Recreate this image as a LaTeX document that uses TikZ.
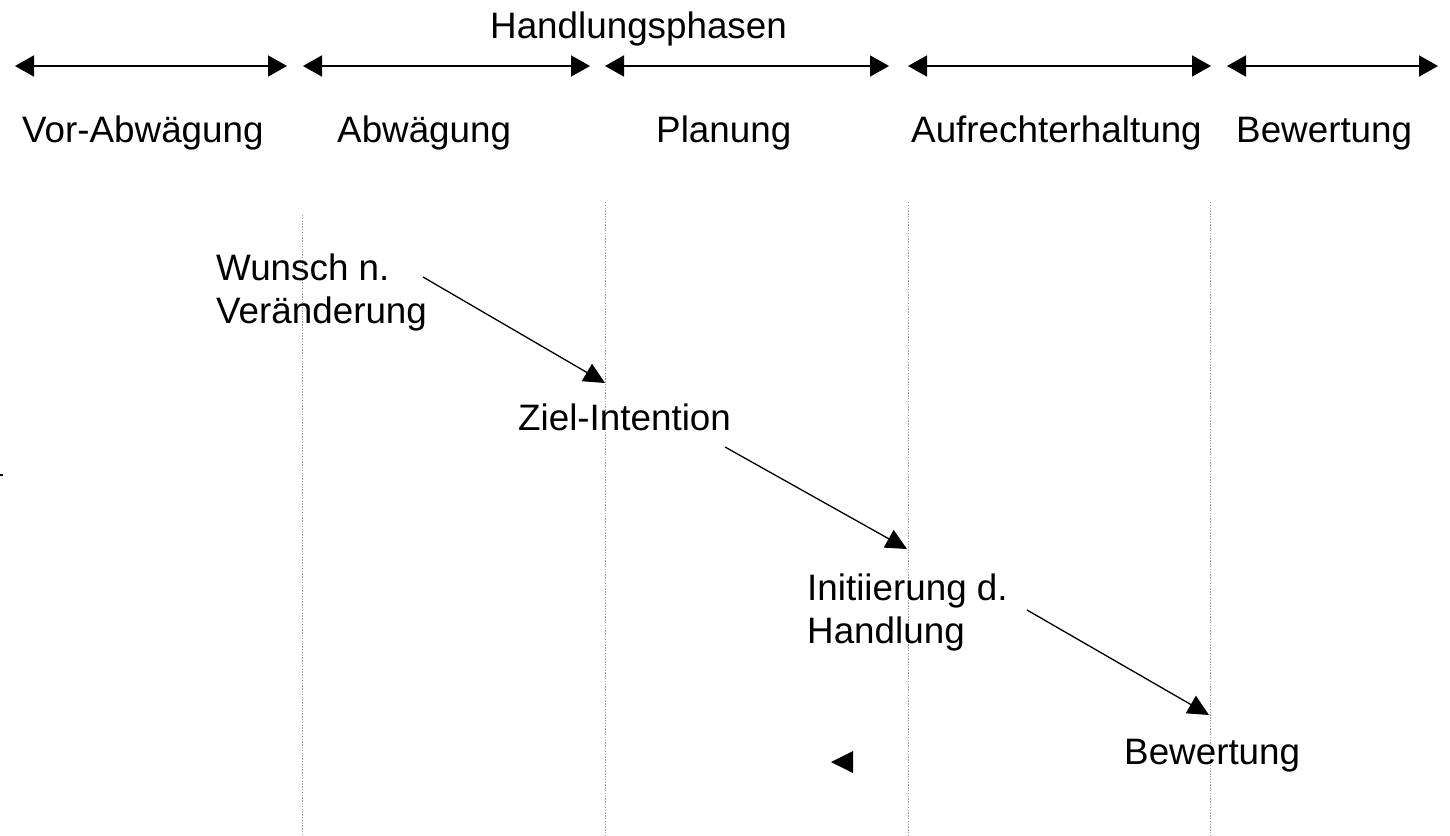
\documentclass[tikz,border=0pt]{standalone}
\usepackage{fontspec}
\setmainfont{Liberation Sans}
\usetikzlibrary{arrows.meta}
\begin{document}
\begin{tikzpicture}[x=1pt,y=-1pt,
  lbl/.style={anchor=base west,inner sep=0pt,font=\fontsize{36.8}{43}\selectfont,align=left},
  phasearrow/.style={line width=1.8pt,{Triangle[length=19pt,width=21pt]}-{Triangle[length=19pt,width=21pt]}},
  flowarrow/.style={line width=1.3pt,-{Triangle[length=21pt,width=20pt]}},
  divider/.style={gray!75,line width=1pt,dash pattern=on 1.4pt off 1.4pt}]
\useasboundingbox (0,0) rectangle (1450,835);
% title
\node[lbl] (title) at (490,38) {Handlungsphasen};
% phase arrows
\coordinate (a1l) at (15,66);   \coordinate (a1r) at (287,66);
\coordinate (a2l) at (303,66);  \coordinate (a2r) at (590,66);
\coordinate (a3l) at (605,66);  \coordinate (a3r) at (889,66);
\coordinate (a4l) at (908,66);  \coordinate (a4r) at (1211,66);
\coordinate (a5l) at (1227,66); \coordinate (a5r) at (1438,66);
\draw[phasearrow] (a1l) -- (a1r);
\draw[phasearrow] (a2l) -- (a2r);
\draw[phasearrow] (a3l) -- (a3r);
\draw[phasearrow] (a4l) -- (a4r);
\draw[phasearrow] (a5l) -- (a5r);
% phase labels
\node[lbl] (p1) at (22,142) {Vor-Abwägung};
\node[lbl] (p2) at (337,142) {Abwägung};
\node[lbl] (p3) at (656,142) {Planung};
\node[lbl] (p4) at (911,142) {Aufrechterhaltung};
\node[lbl] (p5) at (1236,142) {Bewertung};
% dividers
\coordinate (d1t) at (302,215);  \coordinate (d1b) at (302,835);
\coordinate (d2t) at (605,202);  \coordinate (d2b) at (605,835);
\coordinate (d3t) at (908,202);  \coordinate (d3b) at (908,835);
\coordinate (d4t) at (1210,202); \coordinate (d4b) at (1210,835);
\draw[divider] (d1t) -- (d1b);
\draw[divider] (d2t) -- (d2b);
\draw[divider] (d3t) -- (d3b);
\draw[divider] (d4t) -- (d4b);
% stages (base = baseline of last line)
\node[lbl] (wunsch) at (216,323) {Wunsch n.\\Veränderung};
\node[lbl] (ziel) at (518,430) {Ziel-Intention};
\node[lbl] (init) at (807,643) {Initiierung d.\\Handlung};
\node[lbl] (bew) at (1124,764) {Bewertung};
% flow arrows
\coordinate (f1s) at (423,277);  \coordinate (f1e) at (605,383);
\coordinate (f2s) at (725,447);  \coordinate (f2e) at (907,549);
\coordinate (f3s) at (1027,610); \coordinate (f3e) at (1209,715);
\draw[flowarrow] (f1s) -- (f1e);
\draw[flowarrow] (f2s) -- (f2e);
\draw[flowarrow] (f3s) -- (f3e);
% lone arrowhead
\coordinate (lt) at (831,762);
\fill (lt) -- (853,751) -- (853,773) -- cycle;
% speck at left edge
\fill (0,474) rectangle (3,476);
\end{tikzpicture}
\end{document}
